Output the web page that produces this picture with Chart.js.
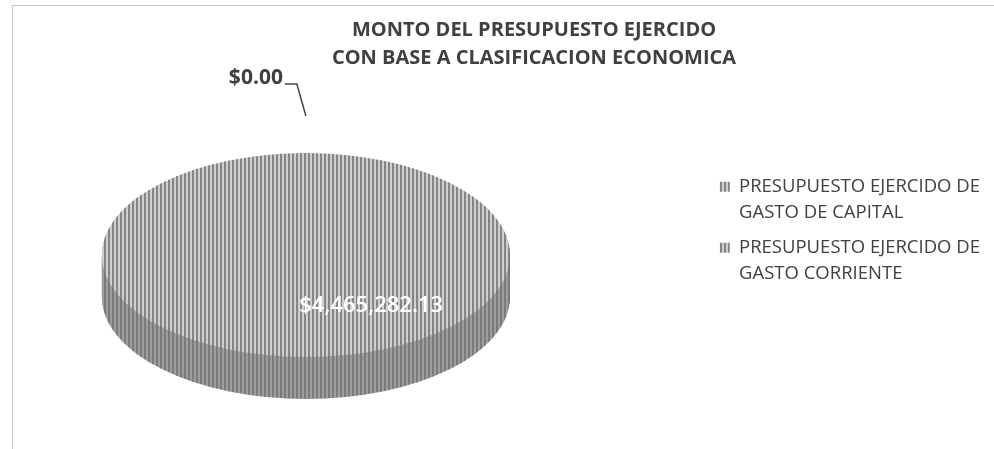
<!DOCTYPE html>
<html>
<head>
<meta charset="utf-8">
<title>Monto del presupuesto ejercido</title>
<script src="https://cdn.jsdelivr.net/npm/chart.js@4.4.1/dist/chart.umd.min.js"></script>
<style>
  html, body { margin: 0; padding: 0; background: #fff; }
  #wrap { position: relative; width: 994px; height: 449px; overflow: hidden; }
  #frame { position: absolute; left: 12px; top: 5px; right: -2px; bottom: -2px;
           border-top: 1px solid #c8c8c8; border-left: 1px solid #c8c8c8; }
  #budgetChart { position: absolute; left: 0; top: 0; }
</style>
</head>
<body>
<div id="wrap">
  <div id="frame"></div>
  <canvas id="budgetChart" width="994" height="449"></canvas>
</div>
<script>
// Chart data
const titleLines = ['MONTO DEL PRESUPUESTO EJERCIDO', 'CON BASE A CLASIFICACION ECONOMICA'];
const categories = ['PRESUPUESTO EJERCIDO DE GASTO DE CAPITAL', 'PRESUPUESTO EJERCIDO DE GASTO CORRIENTE'];
const amounts = [0, 4465282.13];

const textColor = '#404040';
const fontFamily = "'Open Sans', sans-serif";

const TILT = 0.5;   // vertical squash of the pie (3d look)
const DEPTH = 42;   // thickness of the side in px
const LEGEND_GAP = 177; // empty space between pie area and legend

// wrap long legend text into lines
function wrapLabel(text, maxChars) {
    const lines = [];
    let line = '';
    text.split(' ').forEach(word => {
        const next = line ? line + ' ' + word : word;
        if (next.length > maxChars && line) {
            lines.push(line);
            line = word;
        } else {
            line = next;
        }
    });
    if (line) lines.push(line);
    return lines;
}

function money(v) {
    return '$' + v.toLocaleString('en-US', { minimumFractionDigits: 2, maximumFractionDigits: 2 });
}

const ctx = document.getElementById('budgetChart').getContext('2d');

// vertical stripes fill, like the scanned excel pattern
const tile = document.createElement('canvas');
tile.width = 4;
tile.height = 4;
const tctx = tile.getContext('2d');
tctx.fillStyle = '#cfcfcf';
tctx.fillRect(0, 0, 4, 4);
tctx.fillStyle = '#858585';
tctx.fillRect(0, 0, 2, 4);
const stripes = ctx.createPattern(tile, 'repeat');

// Squash the pie into an ellipse and stack darker copies under it for the side
const pie3d = {
    id: 'pie3d',
    beforeDatasetDraw(chart, args) {
        const meta = args.meta;
        const c = chart.ctx;
        const { x, y } = meta.data[0];
        const tilt = (dy) => {
            c.translate(x, y + dy);
            c.scale(1, TILT);
            c.translate(-x, -y);
        };
        for (let d = DEPTH; d > 0; d--) {
            c.save();
            c.filter = 'contrast(0.5) brightness(0.95)';
            tilt(d);
            meta.controller.draw();
            c.restore();
        }
        c.save();
        tilt(0);
    },
    afterDatasetDraw(chart) {
        chart.ctx.restore();
    }
};

// extra layout box so the legend sits to the right, away from the pie
const legendGap = {
    id: 'legendGap',
    beforeInit(chart) {
        Chart.layouts.addBox(chart, {
            position: 'right',
            weight: 500,
            fullSize: false,
            options: {},
            isHorizontal() { return false; },
            update(maxWidth, maxHeight) {
                this.width = LEGEND_GAP;
                this.height = maxHeight;
            },
            draw() {}
        });
    }
};

// Data labels: small slices get a leader line, big ones go inside
const valueLabels = {
    id: 'valueLabels',
    afterDatasetsDraw(chart) {
        const c = chart.ctx;
        const meta = chart.getDatasetMeta(0);
        const values = chart.data.datasets[0].data;
        meta.data.forEach((arc, i) => {
            const { x, y, startAngle, endAngle, outerRadius } = arc;
            const text = money(values[i]);
            const mid = (startAngle + endAngle) / 2;
            c.save();
            c.textBaseline = 'middle';
            if (endAngle - startAngle < 0.2) {
                const ax = x + outerRadius * Math.cos(mid);
                const ay = y + outerRadius * TILT * Math.sin(mid);
                c.strokeStyle = '#454545';
                c.lineWidth = 1.5;
                c.beginPath();
                c.moveTo(ax, ay - 37);
                c.lineTo(ax - 9, ay - 69);
                c.lineTo(ax - 21, ay - 69);
                c.stroke();
                c.fillStyle = textColor;
                c.font = 'bold 21px ' + fontFamily;
                c.textAlign = 'right';
                c.fillText(text, ax - 23, ay - 75);
            } else {
                c.fillStyle = '#ffffff';
                c.font = '600 22px ' + fontFamily;
                c.textAlign = 'center';
                c.fillText(text, x + outerRadius * 0.32, y + outerRadius * TILT * 0.5);
            }
            c.restore();
        });
    }
};

new Chart(ctx, {
    type: 'pie',
    data: {
        labels: categories,
        datasets: [{
            data: amounts,
            backgroundColor: [stripes, stripes],
            borderWidth: 0,
            clip: false
        }]
    },
    options: {
        responsive: false,
        animation: false,
        events: [],
        radius: 204,
        layout: {
            padding: { top: 27, right: 4, bottom: 8, left: 78 }
        },
        plugins: {
            title: {
                display: true,
                text: titleLines,
                color: textColor,
                font: { family: fontFamily, size: 20, weight: 'bold', lineHeight: 28 / 20 },
                padding: { top: -11, bottom: -3 }
            },
            legend: {
                position: 'right',
                align: 'center',
                maxWidth: 400,
                labels: {
                    boxWidth: 10,
                    boxHeight: 10,
                    padding: 9,
                    color: textColor,
                    font: { family: fontFamily, size: 18.5, lineHeight: 26 / 18.5 },
                    generateLabels(chart) {
                        const ds = chart.data.datasets[0];
                        return chart.data.labels.map((label, i) => ({
                            text: wrapLabel(label, 23),
                            fillStyle: ds.backgroundColor[i],
                            strokeStyle: ds.backgroundColor[i],
                            lineWidth: 0,
                            fontColor: textColor,
                            hidden: false,
                            index: i
                        }));
                    }
                }
            },
            tooltip: { enabled: false }
        }
    },
    plugins: [legendGap, pie3d, valueLabels]
});
</script>
</body>
</html>
